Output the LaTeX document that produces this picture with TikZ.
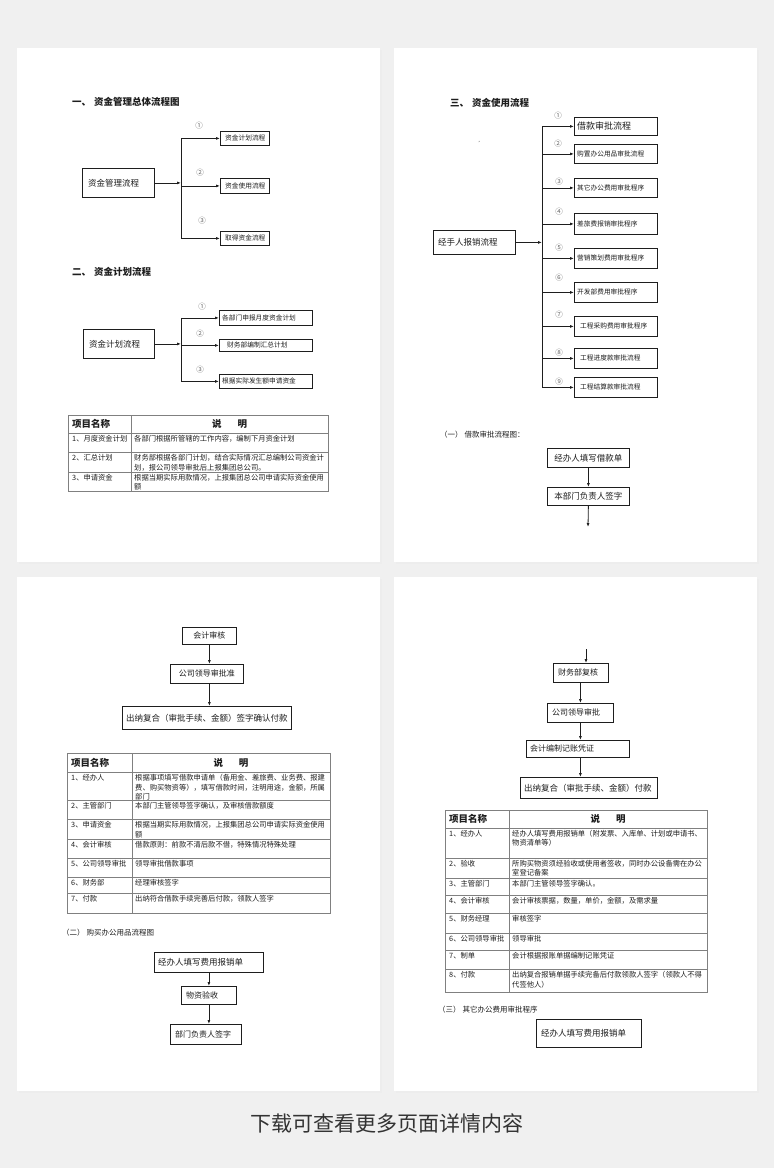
\documentclass[tikz,border=0pt]{standalone}
\usepackage{fontspec}
\setmainfont{Noto Sans CJK SC}
\usetikzlibrary{arrows.meta}
\XeTeXlinebreaklocale "zh"
\XeTeXlinebreakskip = 0pt plus 1pt
\definecolor{bg}{HTML}{F0F0F0}
\definecolor{ink}{HTML}{1E1E1E}
\tikzset{
 bx/.style={draw=ink, line width=0.8pt, fill=white},
 arr/.style={draw=ink, line width=0.8pt, -{Latex[length=4pt,width=3pt]}},
 conn/.style={draw=ink, line width=0.8pt},
 tline/.style={draw=black!50, line width=0.9pt},
 hd/.style={font=\bfseries\fontsize{9.5}{11}\selectfont, anchor=west},
 subhd/.style={font=\fontsize{7.5}{9}\selectfont, anchor=west},
 cnum/.style={font=\fontsize{7.5}{8}\selectfont, text=black!60},
 tbhead/.style={font=\bfseries\fontsize{9.5}{11}\selectfont},
 tbcell/.style={font=\fontsize{7.3}{9.4}\selectfont, align=left, anchor=north west},
}
% left-aligned box: [pad]{name}{x1}{y1}{x2}{y2}{fontsize}{text}
\newcommand\bx[8][4]{%
 \pgfmathsetmacro\bw{#5-#3}\pgfmathsetmacro\bh{#6-#4}%
 \node[bx, anchor=north west, minimum width=\bw pt, minimum height=\bh pt] (#2) at (#3,#4) {};
 \node[anchor=west, font=\fontsize{#7}{#7}\selectfont] (#2t) at ([xshift=#1pt]#2.west) {#8};}
% centred box
\newcommand\bxc[7]{%
 \pgfmathsetmacro\bw{#4-#2}\pgfmathsetmacro\bh{#5-#3}%
 \node[bx, anchor=north west, minimum width=\bw pt, minimum height=\bh pt, font=\fontsize{#6}{#6}\selectfont] (#1) at (#2,#3) {#7};}
\begin{document}
\begin{tikzpicture}[x=1pt,y=-1pt, every node/.style={inner sep=0pt, text=ink}]
\useasboundingbox (0,0) rectangle (774,1168);
\fill[bg] (0,0) rectangle (774,1168);
% pages
\foreach \px/\py in {17/48, 394/48, 17/577, 394/577}{
  \fill[black!7] (\px+1.5,\py+2) rectangle (\px+364.5,\py+516);
  \fill[white] (\px,\py) rectangle (\px+363,\py+514);
}

%================ page 1 =================
\node[hd] (h1) at (72,102) {一、\hspace{3pt}资金管理总体流程图};
\bx[6]{m1}{82}{168}{154}{197}{8.5}{资金管理流程}
\coordinate (j1) at (181,182);
\bx[5]{a1}{220}{131}{269}{145}{6.7}{资金计划流程}
\bx[5]{a2}{220}{178}{269}{193}{6.7}{资金使用流程}
\bx[5]{a3}{220}{231}{269}{245}{6.7}{取得资金流程}
\node[cnum] (n11) at (199,126) {①};
\node[cnum] (n12) at (200,173) {②};
\node[cnum] (n13) at (202,221) {③};
\draw[arr] (m1.east) -- (m1.east -| j1);
\draw[conn] (a1.west -| j1) -- (a3.west -| j1);
\draw[arr] (a1.west -| j1) -- (a1.west);
\draw[arr] (a2.west -| j1) -- (a2.west);
\draw[arr] (a3.west -| j1) -- (a3.west);

\node[hd] (h2) at (72,272) {二、\hspace{3pt}资金计划流程};
\bx[6]{m2}{83}{329}{154}{358}{8.5}{资金计划流程}
\coordinate (j2) at (181,343);
\bx[3]{b1}{219}{310}{312}{325}{6.7}{各部门申报月度资金计划}
\bx[8]{b2}{219}{339}{312}{351}{6.7}{财务部编制汇总计划}
\bx[3]{b3}{219}{374}{312}{388}{6.7}{根据实际发生额申请资金}
\node[cnum] (n21) at (202,307) {①};
\node[cnum] (n22) at (200,334) {②};
\node[cnum] (n23) at (200,370) {③};
\draw[arr] (m2.east) -- (m2.east -| j2);
\draw[conn] (b1.west -| j2) -- (b3.west -| j2);
\draw[arr] (b1.west -| j2) -- (b1.west);
\draw[arr] (b2.west -| j2) -- (b2.west);
\draw[arr] (b3.west -| j2) -- (b3.west);

% table 1
\draw[tline] (68,415) rectangle (328,491);
\foreach \y in {433,452,472} \draw[tline] (68,\y) -- (328,\y);
\draw[tline] (131,415) -- (131,491);
\node[tbhead, anchor=west] (t1h1) at (72,424) {项目名称};
\node[tbhead] (t1h2) at (229.5,424) {说\hspace{16pt}明};
\node[tbcell] (t1a1) at (72,435.5) {1、月度资金计划};
\node[tbcell] (t1b1) at (134,435.5) {各部门根据所管辖的工作内容，编制下月资金计划};
\node[tbcell] (t1a2) at (72,454.5) {2、汇总计划};
\node[tbcell] (t1b2) at (134,454.5) {财务部根据各部门计划，结合实际情况汇总编制公司资金计\\划，报公司领导审批后上报集团总公司。};
\node[tbcell] (t1a3) at (72,474) {3、申请资金};
\node[tbcell] (t1b3) at (134,474) {根据当期实际用款情况，上报集团总公司申请实际资金使用\\额};

%================ page 2 =================
\node[hd] (h3) at (450,103) {三、\hspace{3pt}资金使用流程};
\node[font=\fontsize{5}{5}\selectfont] (tick) at (481,143) {'};
\bx[5]{m3}{433}{230}{515}{254}{8.5}{经手人报销流程}
\coordinate (j3) at (542,244);
\bx[3]{c1}{574}{117}{657}{135}{9}{借款审批流程}
\bx[3]{c2}{574}{144}{657}{163}{6.7}{购置办公用品审批流程}
\bx[3]{c3}{574}{178}{657}{197}{6.7}{其它办公费用审批程序}
\bx[3]{c4}{574}{213}{657}{234}{6.7}{差旅费报销审批程序}
\bx[3]{c5}{574}{248}{657}{268}{6.7}{营销策划费用审批程序}
\bx[3]{c6}{574}{282}{657}{302}{6.7}{开发部费用审批程序}
\bx[6]{c7}{574}{316}{657}{336}{6.7}{工程采购费用审批程序}
\bx[6]{c8}{574}{348}{657}{368}{6.7}{工程进度款审批流程}
\bx[6]{c9}{574}{377}{657}{397}{6.7}{工程结算款审批流程}
\node[cnum] (n31) at (558,116) {①};
\node[cnum] (n32) at (558,144) {②};
\node[cnum] (n33) at (559,182) {③};
\node[cnum] (n34) at (559,212) {④};
\node[cnum] (n35) at (559,248) {⑤};
\node[cnum] (n36) at (559,278) {⑥};
\node[cnum] (n37) at (559,315) {⑦};
\node[cnum] (n38) at (559,353) {⑧};
\node[cnum] (n39) at (559,382) {⑨};
\draw[arr] (m3.east) -- (m3.east -| j3);
\draw[conn] (c1.west -| j3) -- (c9.west -| j3);
\foreach \c in {c1,c2,c3,c4,c5,c6,c7,c8,c9} \draw[arr] (\c.west -| j3) -- (\c.west);

\node[subhd] (s1) at (440,435) {（一）\hspace{2pt}借款审批流程图：};
\bxc{d1}{547}{448}{629}{467}{8.5}{经办人填写借款单}
\bxc{d2}{547}{487}{629}{505}{8.5}{本部门负责人签字}
\coordinate (d3) at (588,527);
\draw[arr] (d1.south) -- (d2.north);
\draw[arr] (d2.south) -- (d3);

%================ page 3 =================
\bxc{e1}{182}{627}{236}{644}{8}{会计审核}
\bxc{e2}{170}{664}{243}{683}{8}{公司领导审批准}
\bxc{e3}{122}{706}{291}{729}{8.5}{出纳复合（审批手续、金额）签字确认付款}
\draw[arr] (e1.south) -- (e1.south |- e2.north);
\draw[arr] (e1.south |- e2.south) -- (e1.south |- e3.north);

% table 2
\draw[tline] (67,753) rectangle (330,913);
\foreach \y in {772,800,819,839,858,877,893} \draw[tline] (67,\y) -- (330,\y);
\draw[tline] (132,753) -- (132,913);
\node[tbhead, anchor=west] (t2h1) at (71,762.5) {项目名称};
\node[tbhead] (t2h2) at (231,762.5) {说\hspace{16pt}明};
\node[tbcell] (t2a1) at (71,774.5) {1、经办人};
\node[tbcell] (t2b1) at (135,774.5) {根据事项填写借款申请单（备用金、差旅费、业务费、报建\\费、购买物资等），填写借款时间，注明用途，金额，所属\\部门};
\node[tbcell] (t2a2) at (71,802.5) {2、主管部门};
\node[tbcell] (t2b2) at (135,802.5) {本部门主管领导签字确认，及审核借款额度};
\node[tbcell] (t2a3) at (71,821.5) {3、申请资金};
\node[tbcell] (t2b3) at (135,821.5) {根据当期实际用款情况，上报集团总公司申请实际资金使用\\额};
\node[tbcell] (t2a4) at (71,841.5) {4、会计审核};
\node[tbcell] (t2b4) at (135,841.5) {借款原则：前款不清后款不借，特殊情况特殊处理};
\node[tbcell] (t2a5) at (71,860.5) {5、公司领导审批};
\node[tbcell] (t2b5) at (135,860.5) {领导审批借款事项};
\node[tbcell] (t2a6) at (71,879) {6、财务部};
\node[tbcell] (t2b6) at (135,879) {经理审核签字};
\node[tbcell] (t2a7) at (71,895.5) {7、付款};
\node[tbcell] (t2b7) at (135,895.5) {出纳符合借款手续完善后付款，领款人签字};

\node[subhd] (s2) at (62,933) {（二）\hspace{2pt}购买办公用品流程图};
\bx[4]{f1}{154}{952}{263}{972}{8.5}{经办人填写费用报销单}
\bx[5]{f2}{181}{986}{236}{1004}{8}{物资验收}
\bx[5]{f3}{170}{1024}{241}{1044}{8}{部门负责人签字}
\draw[arr] (f1.south) -- (f1.south |- f2.north);
\draw[arr] (f1.south |- f2.south) -- (f1.south |- f3.north);

%================ page 4 =================
\coordinate (g0) at (586,649);
\bx[5]{g1}{553}{663}{608}{682}{8}{财务部复核}
\bx[5]{g2}{547}{703}{613}{722}{8}{公司领导审批}
\bx[4]{g3}{526}{740}{629}{757}{8}{会计编制记账凭证}
\bx[4]{g4}{520}{777}{657}{798}{8.5}{出纳复合（审批手续、金额）付款}
\draw[arr] (g0) -- (g0 |- g1.north);
\draw[arr] (g2.north |- g1.south) -- (g2.north);
\draw[arr] (g2.south) -- (g2.south |- g3.north);
\draw[arr] (g2.south |- g3.south) -- (g2.south |- g4.north);

% table 3
\draw[tline] (445,810) rectangle (707,992);
\foreach \y in {828,858,878,895,913,933,950,969} \draw[tline] (445,\y) -- (707,\y);
\draw[tline] (509,810) -- (509,992);
\node[tbhead, anchor=west] (t3h1) at (449,819) {项目名称};
\node[tbhead] (t3h2) at (608,819) {说\hspace{16pt}明};
\node[tbcell] (t3a1) at (449,830) {1、经办人};
\node[tbcell] (t3b1) at (512,830) {经办人填写费用报销单（附发票、入库单、计划或申请书、\\物资清单等）};
\node[tbcell] (t3a2) at (449,860) {2、验收};
\node[tbcell] (t3b2) at (512,860) {所购买物资须经验收或使用者签收，同时办公设备需在办公\\室登记备案};
\node[tbcell] (t3a3) at (449,880) {3、主管部门};
\node[tbcell] (t3b3) at (512,880) {本部门主管领导签字确认。};
\node[tbcell] (t3a4) at (449,897.5) {4、会计审核};
\node[tbcell] (t3b4) at (512,897.5) {会计审核票据，数量，单价，金额，及需求量};
\node[tbcell] (t3a5) at (449,915.5) {5、财务经理};
\node[tbcell] (t3b5) at (512,915.5) {审核签字};
\node[tbcell] (t3a6) at (449,935) {6、公司领导审批};
\node[tbcell] (t3b6) at (512,935) {领导审批};
\node[tbcell] (t3a7) at (449,952.5) {7、制单};
\node[tbcell] (t3b7) at (512,952.5) {会计根据报账单据编制记账凭证};
\node[tbcell] (t3a8) at (449,971.5) {8、付款};
\node[tbcell] (t3b8) at (512,971.5) {出纳复合报销单据手续完备后付款领款人签字（领款人不得\\代签他人）};

\node[subhd] (s3) at (438,1010) {（三）\hspace{2pt}其它办公费用审批程序};
\bx[5]{k1}{536}{1019}{641}{1047}{8.5}{经办人填写费用报销单}

% footer
\node[font=\fontsize{21}{24}\selectfont, text=black!80] (foot) at (387,1123) {下载可查看更多页面详情内容};
\end{tikzpicture}
\end{document}
